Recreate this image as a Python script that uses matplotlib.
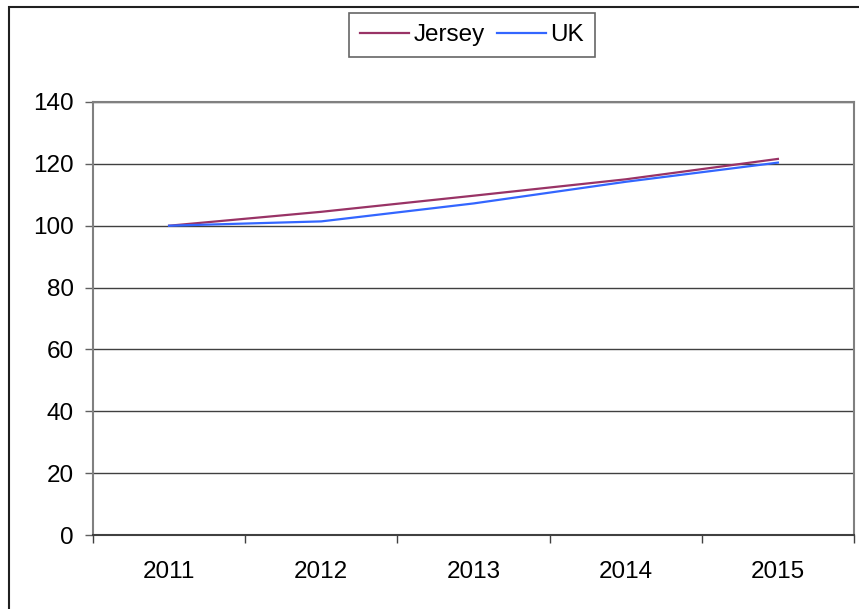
import matplotlib.pyplot as plt
from matplotlib.patches import Rectangle

# Index values (2011 = 100)
years = ["2011", "2012", "2013", "2014", "2015"]
jersey = [100, 104.5, 109.7, 115.0, 121.6]
uk = [100, 101.4, 107.2, 114.2, 120.4]
y_ticks = [0, 20, 40, 60, 80, 100, 120, 140]

plt.rcParams['font.family'] = ['Liberation Sans', 'DejaVu Sans']
plt.rcParams['font.size'] = 17.5

fig = plt.figure(figsize=(8.59, 6.09), dpi=100)
ax = fig.add_axes([93 / 859, 1 - 535 / 609, (854 - 93) / 859, (535 - 102) / 609])

x = [i + 0.5 for i in range(len(years))]
ax.plot(x, jersey, color="#993366", lw=1.6, label="Jersey")
ax.plot(x, uk, color="#3366FF", lw=1.6, label="UK")

ax.set_xlim(0, len(years))
ax.set_ylim(0, 140)
ax.set_yticks(y_ticks)
ax.set_xticks(range(len(years) + 1))
ax.set_xticklabels([])
ax.set_xticks(x, minor=True)
ax.set_xticklabels(years, minor=True)
ax.tick_params(axis="x", which="minor", length=0, pad=19)
ax.tick_params(axis="x", which="major", length=5.5, width=1, color="#404040")
ax.tick_params(axis="y", length=5.5, width=1, color="#606060", pad=8.5)

ax.grid(axis="y", color="#404040", lw=1)
ax.set_axisbelow(True)
for side in ("top", "right", "left"):
    ax.spines[side].set_color("#808080")
    ax.spines[side].set_linewidth(1.5)
ax.spines["bottom"].set_color("#404040")
ax.spines["bottom"].set_linewidth(1.5)

leg = fig.legend(loc="center", bbox_to_anchor=(472 / 859, 1 - 35 / 609), ncol=2,
                 frameon=True, fancybox=False, handlelength=2.0, handletextpad=0.2,
                 columnspacing=0.5, borderpad=0.45, borderaxespad=0)
leg.get_frame().set_edgecolor("#404040")
leg.get_frame().set_linewidth(1.2)

# Chart area border (runs past the right and bottom edges)
fig.patches.append(Rectangle((9 / 859, -0.05), 1.0, 1 - 7 / 609 + 0.05, transform=fig.transFigure,
                             fill=False, edgecolor="#202020", lw=1.5))

fig.savefig("out.png", dpi=100)
